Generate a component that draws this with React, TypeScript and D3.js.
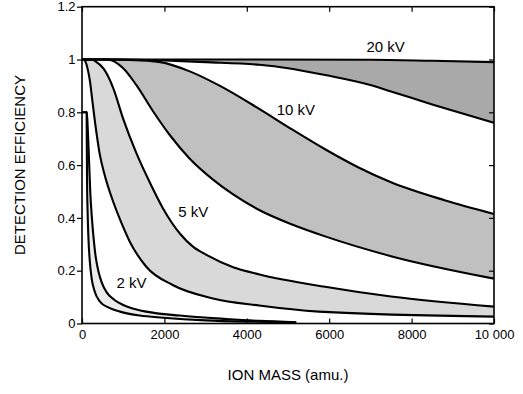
import React, { useEffect, useRef } from "react";
import * as d3 from "d3";

type Pt = [number, number];

// ion mass (amu) vs detection efficiency
const xTicks = [0, 2000, 4000, 6000, 8000, 10000];
const yTicks = [0, 0.2, 0.4, 0.6, 0.8, 1, 1.2];
const bandNames = ["20 kV", "10 kV", "5 kV", "2 kV"];

const kv20Upper: Pt[] = [
  [0, 1], [4000, 1], [7000, 0.999], [8500, 0.995], [10000, 0.99],
];
const kv20Lower: Pt[] = [
  [0, 1], [1000, 1], [2000, 0.996], [3000, 0.99], [4300, 0.98], [5000, 0.967],
  [5900, 0.941], [7000, 0.903], [7500, 0.879], [8500, 0.83], [10000, 0.76],
];
const kv10Upper: Pt[] = [
  [0, 1], [700, 1], [1300, 0.997], [1900, 0.99], [2600, 0.956], [3350, 0.9],
  [4300, 0.813], [5100, 0.735], [5900, 0.66], [6700, 0.592], [7500, 0.535],
  [8800, 0.467], [10000, 0.415],
];
const kv10Lower: Pt[] = [
  [0, 1], [600, 1], [1000, 0.967], [1320, 0.903], [1720, 0.805], [2130, 0.714],
  [2610, 0.625], [3180, 0.545], [3660, 0.49], [4300, 0.43], [5100, 0.375],
  [5900, 0.33], [7500, 0.255], [10000, 0.17],
];
const kv5Upper: Pt[] = [
  [0, 1], [250, 1], [320, 0.994], [520, 0.966], [760, 0.891], [1000, 0.775],
  [1320, 0.645], [1690, 0.52], [1970, 0.435], [2380, 0.34], [2700, 0.29],
  [3020, 0.26], [3670, 0.213], [4310, 0.186], [5900, 0.139], [7500, 0.102],
  [10000, 0.064],
];
const kv5Lower: Pt[] = [
  [0, 1], [50, 1], [100, 0.985], [150, 0.955], [195, 0.916], [250, 0.845],
  [315, 0.764], [435, 0.638], [555, 0.56], [715, 0.48], [920, 0.395],
  [1160, 0.31], [1560, 0.215], [2200, 0.146], [3180, 0.095], [4300, 0.068],
  [5750, 0.045], [10000, 0.026],
];
const kv2Upper: Pt[] = [
  [0, 0.8], [115, 0.8], [130, 0.77], [150, 0.7], [175, 0.6], [200, 0.5],
  [240, 0.4], [275, 0.335], [330, 0.255], [395, 0.2], [480, 0.155], [600, 0.118],
  [780, 0.09], [1000, 0.07], [1250, 0.056], [1560, 0.045], [2370, 0.03],
  [3500, 0.017], [4300, 0.01], [5200, 0.005],
];
const kv2Lower: Pt[] = [
  [0, 0.8], [112, 0.8], [116, 0.7], [122, 0.55], [135, 0.43], [153, 0.335],
  [190, 0.235], [234, 0.171], [300, 0.125], [435, 0.083], [650, 0.06],
  [920, 0.045], [1400, 0.03], [1970, 0.022], [3000, 0.012], [4000, 0.007],
  [5200, 0.004],
];

export default function App() {
  const svgRef = useRef<SVGSVGElement>(null);

  useEffect(() => {
    const svg = d3.select(svgRef.current);
    svg.selectAll("*").remove();

    const width = 523;
    const height = 394;
    const left = 82;
    const right = 494;
    const top = 6.7;
    const bottom = 323.5;
    const font = "'Liberation Sans', Arial, Helvetica, sans-serif";

    const x = d3.scaleLinear().domain([0, 10000]).range([left, right]);
    const y = d3.scaleLinear().domain([0, 1.2]).range([bottom, top]);

    svg.attr("width", width).attr("height", height);

    const line = d3
      .line<Pt>()
      .x((d) => x(d[0]))
      .y((d) => y(d[1]))
      .curve(d3.curveMonotoneX);

    const bands: [Pt[], Pt[], string][] = [
      [kv20Upper, kv20Lower, "#a9a9a9"],
      [kv10Upper, kv10Lower, "#c0c0c0"],
      [kv5Upper, kv5Lower, "#d9d9d9"],
      [kv2Upper, kv2Lower, "#ebebeb"],
    ];

    // fills between the two curves of each voltage
    const g = svg.append("g");
    bands.forEach(([up, low, fill]) => {
      const d =
        line(up)! + line(low.slice().reverse())!.replace(/^M/, "L") + "Z";
      g.append("path").attr("d", d).attr("fill", fill).attr("stroke", "none");
    });

    // curves
    bands.forEach(([up, low]) => {
      [low, up].forEach((c) => {
        g.append("path")
          .attr("d", line(c))
          .attr("fill", "none")
          .attr("stroke", "#000")
          .attr("stroke-width", 2.1)
          .attr("stroke-linejoin", "round");
      });
    });

    // frame
    svg
      .append("rect")
      .attr("x", left)
      .attr("y", top)
      .attr("width", right - left)
      .attr("height", bottom - top)
      .attr("fill", "none")
      .attr("stroke", "#000")
      .attr("stroke-width", 1.6);

    const fmtX = (d: number) => (d === 10000 ? "10 000" : String(d));

    const xAxis = svg
      .append("g")
      .attr("transform", `translate(0,${bottom})`)
      .call(
        d3
          .axisBottom(x)
          .tickValues(xTicks)
          .tickSize(-5)
          .tickPadding(6)
          .tickFormat((d) => fmtX(+d))
      );
    svg
      .append("g")
      .attr("transform", `translate(0,${top})`)
      .call(d3.axisTop(x).tickValues(xTicks).tickSize(-5).tickFormat(() => ""));
    const yAxis = svg
      .append("g")
      .attr("transform", `translate(${left},0)`)
      .call(
        d3
          .axisLeft(y)
          .tickValues(yTicks)
          .tickSize(5)
          .tickPadding(1.5)
          .tickFormat((d) => String(d))
      );
    svg
      .append("g")
      .attr("transform", `translate(${right},0)`)
      .call(d3.axisRight(y).tickValues(yTicks).tickSize(-5).tickFormat(() => ""));

    svg.selectAll(".domain").remove();
    svg.selectAll(".tick line").attr("stroke", "#000").attr("stroke-width", 1.2);
    [xAxis, yAxis].forEach((a) =>
      a
        .selectAll("text")
        .attr("fill", "#000")
        .style("font-family", font)
        .style("font-size", "13px")
    );

    // voltage labels, anchored in data units
    const labelAt: Pt[] = [
      [7370, 1.028],
      [5190, 0.79],
      [2700, 0.403],
      [1200, 0.133],
    ];
    bandNames.forEach((name, i) => {
      svg
        .append("text")
        .attr("x", x(labelAt[i][0]))
        .attr("y", y(labelAt[i][1]))
        .attr("text-anchor", "middle")
        .style("font-family", font)
        .style("font-size", "15px")
        .text(name);
    });

    // axis titles
    svg
      .append("text")
      .attr("x", 288)
      .attr("y", 380)
      .attr("text-anchor", "middle")
      .style("font-family", font)
      .style("font-size", "15px")
      .text("ION MASS (amu.)");
    svg
      .append("text")
      .attr("transform", "translate(25,165) rotate(-90)")
      .attr("text-anchor", "middle")
      .style("font-family", font)
      .style("font-size", "15px")
      .text("DETECTION EFFICIENCY");
  }, []);

  return (
    <svg
      ref={svgRef}
      style={{ position: "absolute", left: 0, top: 0, background: "#fff" }}
    ></svg>
  );
}
